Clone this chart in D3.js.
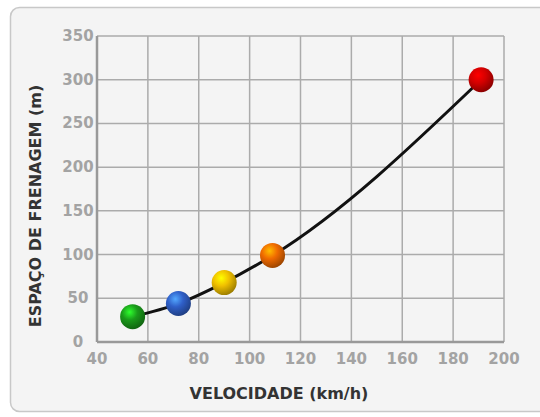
<html>
<head>
<meta charset="utf-8">
<script src="https://d3js.org/d3.v7.min.js"></script>
<style>
    body, html { margin: 0; padding: 0; background: #fff; }
    text { font-family: "DejaVu Sans", Verdana, sans-serif; font-weight: bold; }
</style>
</head>
<body>
<div id="chart"></div>
<script>
// data
var speeds = [54, 72, 90, 109, 191];
var distances = [29, 44, 68, 99, 300];
var colors = ["#1a9a1a", "#2f5fc8", "#f0c000", "#f06a00", "#d40000"];
var xTicks = [40, 60, 80, 100, 120, 140, 160, 180, 200];
var yTicks = [0, 50, 100, 150, 200, 250, 300, 350];

var w = 540, h = 417;
var margin = {top: 36, left: 97, right: 36, bottom: 75};

var svg = d3.select("#chart").append("svg")
    .attr("width", w)
    .attr("height", h);

// panel
svg.append("rect")
    .attr("x", 10.5).attr("y", 7.5)
    .attr("width", 560).attr("height", 404)
    .attr("rx", 9)
    .attr("fill", "#f4f4f4")
    .attr("stroke", "#c8c8c8")
    .attr("stroke-width", 1.5);

var x = d3.scaleLinear().domain([40, 200]).range([margin.left, w - margin.right]);
var y = d3.scaleLinear().domain([0, 350]).range([h - margin.bottom, margin.top]);

var defs = svg.append("defs");
colors.forEach(function (c, i) {
    var g = defs.append("radialGradient")
        .attr("id", "ball" + i)
        .attr("cx", "38%").attr("cy", "32%").attr("r", "70%");
    g.append("stop").attr("offset", "0%").attr("stop-color", d3.color(c).brighter(1.6));
    g.append("stop").attr("offset", "45%").attr("stop-color", c);
    g.append("stop").attr("offset", "100%").attr("stop-color", d3.color(c).darker(1.2));
});

// grid
var grid = svg.append("g").attr("stroke", "#ababab").attr("stroke-width", 1.5);
grid.selectAll(".vx").data(xTicks.slice(1)).enter().append("line")
    .attr("x1", function (d) { return x(d); }).attr("x2", function (d) { return x(d); })
    .attr("y1", y(350)).attr("y2", y(0));
grid.selectAll(".hy").data(yTicks.slice(1)).enter().append("line")
    .attr("x1", x(40)).attr("x2", x(200))
    .attr("y1", function (d) { return y(d); }).attr("y2", function (d) { return y(d); });

// axis lines
svg.append("line").attr("x1", x(40)).attr("x2", x(40)).attr("y1", y(350)).attr("y2", y(0))
    .attr("stroke", "#999").attr("stroke-width", 2.5);
svg.append("line").attr("x1", x(40)).attr("x2", x(200)).attr("y1", y(0)).attr("y2", y(0))
    .attr("stroke", "#999").attr("stroke-width", 2.5);

// tick labels
svg.selectAll(".xt").data(xTicks).enter().append("text")
    .attr("x", function (d) { return x(d); })
    .attr("y", y(0) + 22)
    .attr("text-anchor", "middle")
    .attr("font-size", 15)
    .attr("fill", "#a3a3a3")
    .text(function (d) { return d; });
svg.selectAll(".yt").data(yTicks).enter().append("text")
    .attr("x", 78)
    .attr("y", function (d) { return y(d) + 5; })
    .attr("text-anchor", "middle")
    .attr("font-size", 15)
    .attr("fill", "#a3a3a3")
    .text(function (d) { return d; });

// axis titles
svg.append("text")
    .attr("x", 279).attr("y", 399)
    .attr("text-anchor", "middle")
    .attr("font-size", 16)
    .attr("fill", "#333")
    .text("VELOCIDADE (km/h)");
svg.append("text")
    .attr("transform", "translate(41," + 206 + ") rotate(-90)")
    .attr("text-anchor", "middle")
    .attr("font-size", 16)
    .attr("fill", "#333")
    .text("ESPAÇO DE FRENAGEM (m)");

// curve
var pts = speeds.map(function (s, i) { return [s, distances[i]]; });
var line = d3.line()
    .x(function (d) { return x(d[0]); })
    .y(function (d) { return y(d[1]); })
    .curve(d3.curveMonotoneX);
svg.append("path")
    .attr("d", line(pts))
    .attr("fill", "none")
    .attr("stroke", "#111")
    .attr("stroke-width", 3);

// balls
svg.selectAll(".ball").data(pts).enter().append("circle")
    .attr("cx", function (d) { return x(d[0]); })
    .attr("cy", function (d) { return y(d[1]); })
    .attr("r", 12.5)
    .attr("fill", function (d, i) { return "url(#ball" + i + ")"; });
</script>
</body>
</html>
